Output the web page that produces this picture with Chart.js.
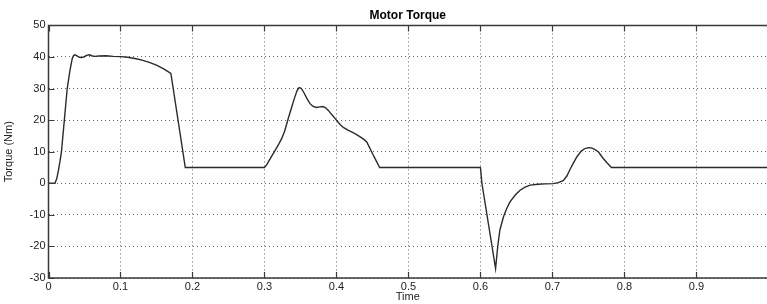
<!DOCTYPE html>
<html>
<head>
<meta charset="utf-8">
<script src="https://cdn.jsdelivr.net/npm/chart.js@4"></script>
<style>
  html, body { margin: 0; padding: 0; background: #fff; }
  canvas { display: block; }
</style>
</head>
<body>
<canvas id="torque" width="767" height="304"></canvas>
<script>
// values
const TIME = [
  0, 0.009, 0.0115, 0.0137, 0.016, 0.018, 0.022, 0.026, 0.030, 0.033,
  0.035, 0.037, 0.040, 0.043, 0.046, 0.049, 0.053, 0.057, 0.060, 0.064,
  0.07, 0.08, 0.09, 0.1, 0.11, 0.12, 0.13, 0.14, 0.15, 0.16,
  0.165, 0.17, 0.19, 0.3, 0.303, 0.308, 0.315, 0.32, 0.324, 0.328,
  0.333, 0.337, 0.341, 0.345, 0.348, 0.351, 0.355, 0.359, 0.363, 0.367,
  0.372, 0.377, 0.381, 0.385, 0.389, 0.394, 0.40, 0.405, 0.41, 0.416,
  0.425, 0.433, 0.438, 0.442, 0.446, 0.452, 0.46, 0.6, 0.602, 0.621,
  0.624, 0.627, 0.632, 0.636, 0.641, 0.648, 0.655, 0.662, 0.669, 0.68,
  0.69, 0.701, 0.708, 0.715, 0.72, 0.724, 0.729, 0.734, 0.74, 0.745,
  0.75, 0.754, 0.758, 0.764, 0.77, 0.776, 0.782, 1.0
];
const TORQUE = [
  0, 0, 1.5, 4, 7, 10, 20, 30, 36, 39.5,
  40.5, 40.7, 40.3, 39.9, 39.8, 40.0, 40.5, 40.7, 40.4, 40.2,
  40.3, 40.4, 40.2, 40.1, 39.9, 39.5, 39.0, 38.3, 37.4, 36.2,
  35.5, 34.8, 5, 5, 5.8, 7.8, 10.5, 12.5, 14.2, 16.5,
  20.5, 23.5, 26.5, 29.2, 30.3, 30.1, 28.6, 26.8, 25.3, 24.4,
  24.0, 24.2, 24.3, 23.9, 23.0, 21.6, 20, 18.6, 17.6, 16.8,
  15.8, 14.7, 13.9, 13.1, 11.3, 8.5, 5, 5, 0, -27,
  -20, -14.8, -10.6, -8.2, -5.9, -3.8, -2.2, -1.2, -0.6, -0.3,
  -0.2, -0.1, 0.2, 0.8, 2.3, 4.2, 6.4, 8.4, 10.2, 11.0,
  11.3, 11.2, 10.8, 9.9, 8.0, 6.4, 5, 5
];
const X_TICKS = [0, 0.1, 0.2, 0.3, 0.4, 0.5, 0.6, 0.7, 0.8, 0.9];
const Y_TICKS = [-30, -20, -10, 0, 10, 20, 30, 40, 50];

const FONT = 'Arial, "Liberation Sans", sans-serif';

// matlab style box (right side is cropped off) + inward ticks
const axesBox = {
  id: 'axesBox',
  afterDraw(chart) {
    const { ctx, chartArea: a, scales } = chart;
    ctx.save();
    ctx.strokeStyle = '#3a3a3a';
    ctx.lineWidth = 1.5;
    ctx.beginPath();
    ctx.moveTo(a.right + 2, a.top);
    ctx.lineTo(a.left, a.top);
    ctx.lineTo(a.left, a.bottom);
    ctx.lineTo(a.right + 2, a.bottom);
    ctx.stroke();
    ctx.lineWidth = 1.2;
    ctx.beginPath();
    X_TICKS.forEach(v => {
      const x = Math.round(scales.x.getPixelForValue(v)) + 0.5;
      ctx.moveTo(x, a.bottom); ctx.lineTo(x, a.bottom - 6);
      ctx.moveTo(x, a.top); ctx.lineTo(x, a.top + 6);
    });
    Y_TICKS.forEach(v => {
      const y = Math.round(scales.y.getPixelForValue(v)) + 0.5;
      ctx.moveTo(a.left, y); ctx.lineTo(a.left + 6, y);
    });
    ctx.stroke();
    ctx.restore();
  }
};

new Chart(document.getElementById('torque'), {
  type: 'line',
  plugins: [axesBox],
  data: {
    datasets: [{
      data: TIME.map((t, i) => ({ x: t, y: TORQUE[i] })),
      borderColor: '#2b2b2b',
      borderWidth: 1.4,
      pointRadius: 0,
      tension: 0,
      fill: false,
    }],
  },
  options: {
    responsive: false,
    animation: false,
    devicePixelRatio: 1,
    layout: { padding: 0 },
    plugins: {
      legend: { display: false },
      tooltip: { enabled: false },
      title: {
        display: true,
        text: 'Motor Torque',
        fullSize: false,
        color: '#000',
        font: { family: FONT, size: 12, weight: 'bold' },
        padding: { top: 8, bottom: 3 },
      },
    },
    scales: {
      x: {
        type: 'linear',
        min: 0,
        max: 0.998,
        afterBuildTicks: s => { s.ticks = X_TICKS.map(v => ({ value: v })); },
        afterFit: s => { s.height = 26; },
        ticks: {
          color: '#222',
          font: { family: FONT, size: 11 },
          padding: 2,
          maxRotation: 0,
          callback: v => String(Math.round(v * 10) / 10),
        },
        grid: {
          color: '#666',
          drawTicks: false,
        },
        border: { display: false, dash: [1, 3] },
        title: {
          display: true,
          text: 'Time',
          color: '#222',
          font: { family: FONT, size: 11 },
          padding: { top: 0, bottom: 0 },
        },
      },
      y: {
        min: -30,
        max: 50,
        afterBuildTicks: s => { s.ticks = Y_TICKS.map(v => ({ value: v })); },
        afterFit: s => { s.width = 48.5; },
        ticks: {
          color: '#222',
          font: { family: FONT, size: 11 },
          padding: 3,
        },
        grid: {
          color: '#666',
          drawTicks: false,
        },
        border: { display: false, dash: [1, 3] },
        title: {
          display: true,
          text: 'Torque (Nm)',
          color: '#222',
          font: { family: FONT, size: 11 },
          padding: { top: 2, bottom: 0 },
        },
      },
    },
  },
});
</script>
</body>
</html>
